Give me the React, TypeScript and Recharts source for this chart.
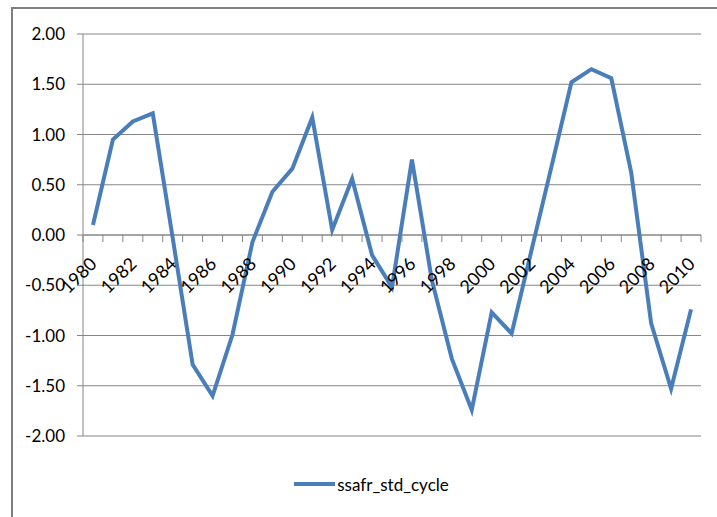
import {
  LineChart,
  Line,
  XAxis,
  YAxis,
  CartesianGrid,
  Legend,
  ReferenceLine,
} from "recharts";

const years = [
  1980, 1981, 1982, 1983, 1984, 1985, 1986, 1987, 1988, 1989, 1990, 1991,
  1992, 1993, 1994, 1995, 1996, 1997, 1998, 1999, 2000, 2001, 2002, 2003,
  2004, 2005, 2006, 2007, 2008, 2009, 2010,
];

const cycle = [
  0.1, 0.95, 1.13, 1.21, -0.03, -1.29, -1.6, -0.99, -0.07, 0.43, 0.66, 1.17,
  0.05, 0.56, -0.2, -0.52, 0.75, -0.45, -1.23, -1.74, -0.77, -0.98, -0.15,
  0.68, 1.52, 1.65, 1.56, 0.62, -0.88, -1.53, -0.74,
];

const yTicks = [-2, -1.5, -1, -0.5, 0, 0.5, 1, 1.5, 2];

const chartData = years.map((year, i) => ({
  year: String(year),
  ssafr_std_cycle: cycle[i],
}));

const W = 717;
const H = 517;
const PLOT_LEFT = 83;
const PLOT_RIGHT = 701;
const PLOT_TOP = 34;
const PLOT_BOTTOM = 436;
const LEGEND_H = 40;
const X_AXIS_H = 2;
const AXIS_Y = (PLOT_TOP + PLOT_BOTTOM) / 2;
const BAND = (PLOT_RIGHT - PLOT_LEFT) / years.length;

const FONT = "Lato, 'Open Sans', sans-serif";
const GRID = "#868686";
const BLUE = "#4A7EBB";

// x axis crosses at zero, so the ticks get drawn there instead of the bottom
function YearTick(props: any) {
  const { x, payload, index } = props;
  const year = Number(payload.value);
  const last = index === years.length - 1;
  const lx = x + 5;
  const ly = AXIS_Y + 30;
  return (
    <g>
      <line
        x1={x - BAND / 2}
        x2={x - BAND / 2}
        y1={AXIS_Y}
        y2={AXIS_Y + 7}
        stroke={GRID}
      />
      {last && (
        <line
          x1={x + BAND / 2}
          x2={x + BAND / 2}
          y1={AXIS_Y}
          y2={AXIS_Y + 7}
          stroke={GRID}
        />
      )}
      {year % 2 === 0 && (
        <text
          x={lx}
          y={ly}
          textAnchor="end"
          transform={`rotate(-45 ${lx} ${ly})`}
          fontFamily={FONT}
          fontSize={18}
          fill="#000"
        >
          {payload.value}
        </text>
      )}
    </g>
  );
}

function LegendBox() {
  return (
    <div
      style={{
        display: "flex",
        alignItems: "center",
        justifyContent: "center",
        paddingLeft: 25,
        height: LEGEND_H,
        fontFamily: FONT,
        fontSize: 17,
        color: "#000",
      }}
    >
      <svg width={44} height={10}>
        <line x1={1} x2={42} y1={5} y2={5} stroke={BLUE} strokeWidth={4} />
      </svg>
      <span>ssafr_std_cycle</span>
    </div>
  );
}

export default function App() {
  return (
    <div
      style={{
        position: "absolute",
        left: 0,
        top: 0,
        width: W,
        height: H,
        background: "#fff",
        overflow: "hidden",
      }}
    >
      <div
        style={{
          position: "absolute",
          left: 11,
          top: 7,
          width: W,
          height: H,
          borderLeft: "2px solid #7f7f7f",
          borderTop: "2px solid #7f7f7f",
        }}
      />
      <LineChart
        width={W}
        height={H}
        data={chartData}
        margin={{
          top: PLOT_TOP,
          right: W - PLOT_RIGHT,
          left: 0,
          bottom: H - PLOT_BOTTOM - LEGEND_H - X_AXIS_H,
        }}
      >
        <CartesianGrid vertical={false} stroke={GRID} strokeWidth={1} />
        <XAxis
          dataKey="year"
          scale="band"
          height={X_AXIS_H}
          interval={0}
          axisLine={false}
          tickLine={false}
          tick={YearTick}
        />
        <YAxis
          width={PLOT_LEFT}
          domain={[-2, 2]}
          ticks={yTicks}
          interval={0}
          tickFormatter={(v: number) => v.toFixed(2)}
          axisLine={{ stroke: GRID }}
          tickLine={{ stroke: GRID }}
          tickSize={6}
          tickMargin={12}
          tick={{ fontFamily: FONT, fontSize: 17, fill: "#000" }}
        />
        <ReferenceLine y={0} stroke={GRID} />
        <Line
          type="linear"
          dataKey="ssafr_std_cycle"
          stroke={BLUE}
          strokeWidth={4}
          dot={false}
          isAnimationActive={false}
        />
        <Legend
          verticalAlign="bottom"
          height={LEGEND_H}
          wrapperStyle={{ top: 464, left: 0, width: W }}
          content={<LegendBox />}
        />
      </LineChart>
    </div>
  );
}
